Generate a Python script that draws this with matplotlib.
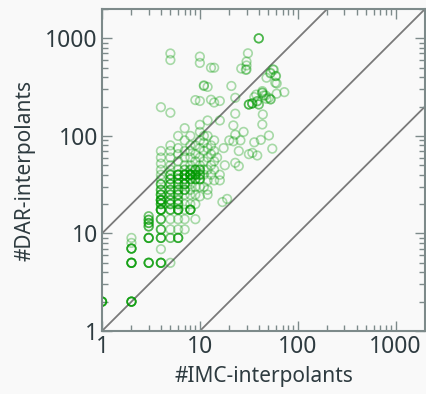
import matplotlib
matplotlib.use("Agg")
import matplotlib.pyplot as plt
from matplotlib.ticker import LogLocator, NullFormatter, FixedLocator, FixedFormatter

# (IMC-interpolants, DAR-interpolants) pairs
imc = [
    1, 1, 1, 1, 1, 1,
    2, 2, 2, 2, 2, 2, 2, 2, 2, 2, 2, 2, 2, 2, 2, 2, 2, 2, 2,
    3, 3, 3, 3, 3, 3, 3, 3, 3, 3, 3, 3, 3, 3, 3, 3, 3,
    4, 4, 4, 4, 4, 4, 4, 4, 4, 4, 4, 4, 4, 4, 4, 4, 4, 4, 4, 4, 4, 4, 4, 4, 4, 4, 4, 4, 4, 4, 4, 4, 4, 4, 4, 4, 4, 4, 4,
    5, 5, 5, 5, 5, 5, 5, 5, 5, 5, 5, 5, 5, 5, 5, 5, 5, 5, 5, 5, 5, 5, 5, 5, 5, 5, 5, 5, 5,
    6, 6, 6, 6, 6, 6, 6, 6, 6, 6, 6, 6, 6, 6, 6, 6, 6, 6, 6, 6, 6, 6, 6, 6, 6, 6, 6, 6,
    7, 7, 7, 7, 7, 7, 7, 7, 7, 7, 7, 7, 7, 7, 7, 7, 7, 7, 7, 7,
    8, 8, 8, 8, 8, 8, 8, 8, 8, 8, 8, 8, 8, 8, 8, 8, 8, 8,
    9, 9, 9, 9, 9, 9, 9, 9, 9, 9, 9, 9, 9, 9,
    10, 10, 10, 10, 10, 10, 10, 10, 10, 10, 10, 10, 10, 10, 10, 10,
    11, 11, 11, 11, 11, 11, 11, 11, 11,
    12, 12, 12, 12, 12, 12, 12, 12, 12,
    13, 13, 13, 13, 13, 13,
    14, 14, 14, 14, 14, 14, 14,
    15, 16, 16, 16, 16, 17, 17.5, 18, 19, 20,
    21, 23, 23, 22, 23, 26, 22, 23, 25, 26.5, 30, 30, 31, 30, 29.5, 25, 28,
    31.7, 34.4, 36, 38.6, 42, 43.5, 44, 50.8, 55,
    31.7, 31.7, 31.7, 34.3, 34.3, 34.3, 38.6, 38.6, 40, 40, 43.5, 43.5, 52.8, 52.8,
    48, 59.5, 61, 73, 61, 52.8, 57, 55.8, 52.5, 60, 59,
    40, 40, 40, 36, 45, 48, 37.7, 43.5, 47, 50.8,
    # dense block repeats
    4, 4, 4, 4, 4, 4, 4, 4, 5, 5, 5, 5, 5, 5, 5, 5, 6, 6, 6, 6, 6, 6, 6, 6,
    7, 7, 7, 7, 7, 7, 8, 8, 8, 8, 8, 8, 9, 9, 9, 9, 10, 10, 10, 10,
    3, 3, 3, 3, 6, 6, 4, 4, 8, 8, 7, 7,
]
dar = [
    2, 2, 2, 2, 2, 2,
    2, 2, 2, 2, 2, 2, 5, 5, 5, 5, 5, 5, 7, 7, 7, 7, 7, 9, 8,
    5, 5, 5, 5, 5, 9, 9, 9, 9, 11.8, 11.8, 12.8, 12.8, 13.8, 13.8, 15, 15,
    5, 5, 5, 5, 6.9, 9, 9, 9, 11, 11, 11, 14, 14, 14, 17.5, 17.5, 17.5, 17.5, 20, 20, 20, 22, 22, 22, 22, 25, 25, 25, 28, 28, 32, 32, 36, 40, 45, 52, 60, 70, 197,
    5, 9, 9, 11, 14, 17.5, 17.5, 20, 20, 22, 22, 25, 25, 28, 28, 32, 32, 36, 36, 40, 40, 45, 50, 60, 70, 80, 600, 700, 173,
    9, 9, 9, 11, 14, 17.5, 17.5, 17.5, 20, 20, 22, 22, 25, 25, 28, 28, 32, 32, 36, 36, 40, 40, 40, 45, 55, 65, 75, 100,
    11, 14, 17.5, 20, 25, 28, 28, 32, 32, 36, 36, 40, 40, 40, 45, 50, 60, 70, 90, 120,
    17.5, 17.5, 17.5, 20, 25, 28, 32, 36, 36, 40, 40, 40, 45, 50, 60, 70, 80, 100,
    14, 20, 25, 30, 36, 36, 40, 40, 45, 45, 55, 65, 80, 233,
    24, 30, 36, 36, 40, 40, 45, 50, 60, 75, 90, 110, 130, 560, 650, 228,
    30, 40, 45, 55, 70, 85, 100, 325, 330,
    25, 28, 35, 45, 60, 75, 100, 318, 144,
    40, 50, 65, 80, 235, 500,
    35, 45, 55, 70, 90, 220, 500,
    60, 228, 144, 40, 35, 21, 75, 50, 22.6, 90,
    325, 246, 169, 128, 103, 90, 88, 53, 49, 490, 480, 578, 703, 527, 475, 70, 110,
    65, 67, 86, 63, 91, 131, 166, 101, 74,
    210, 210, 210, 215, 215, 215, 227, 227, 210, 210, 277, 277, 237, 237,
    395, 411, 345, 281, 271, 443, 475, 482, 438, 411, 351,
    1000, 1000, 1000, 250, 260, 240, 265, 288, 260, 246,
    17.5, 17.5, 20, 22, 22, 25, 28, 32, 17.5, 20, 22, 25, 28, 32, 36, 40, 17.5, 20, 25, 28, 32, 36, 40, 40,
    28, 32, 36, 40, 40, 45, 17.5, 36, 40, 40, 45, 40, 36, 40, 45, 40, 40, 45, 36, 45,
    11.8, 12.8, 13.8, 9, 9, 17.5, 9, 5, 17.5, 40, 40, 32,
]

diag_factors = [10, 1, 0.1]
ticks = [1, 10, 100, 1000]
tick_labels = ["1", "10", "100", "1000"]

plt.rcParams['font.family'] = ['Noto Sans', 'DejaVu Sans']
bg = '#f9f9f9'
txt = '#2e3b40'
spine = '#7d8a8a'

fig = plt.figure(figsize=(4.26, 3.94), dpi=100, facecolor=bg)
ax = fig.add_axes([102/426, 1 - 331/394, 323/426, 322/394], facecolor=bg)
ax.set_xscale('log')
ax.set_yscale('log')
lo, hi = 1, 2000
ax.set_xlim(lo, hi)
ax.set_ylim(lo, hi)

for f in diag_factors:
    ax.plot([lo, hi], [lo * f, hi * f], color='#7a7a7a', lw=1.3, zorder=1)

ax.scatter(imc, dar, s=38, facecolors='none', edgecolors=(0.0, 0.6, 0.0, 0.33),
           linewidths=1.2, zorder=2)

for a in (ax.xaxis, ax.yaxis):
    a.set_major_locator(FixedLocator(ticks))
    a.set_major_formatter(FixedFormatter(tick_labels))
    a.set_minor_locator(LogLocator(base=10, subs=range(2, 10)))
    a.set_minor_formatter(NullFormatter())

ax.tick_params(which='both', direction='in', top=True, right=True, color=spine,
               width=1.0, labelsize=16.5, labelcolor=txt)
ax.tick_params(which='major', length=7, pad=3)
ax.tick_params(which='minor', length=4.5)
for s in ax.spines.values():
    s.set_color(spine)
    s.set_linewidth(1.5)

ax.set_xlabel('#IMC-interpolants', fontsize=15, color=txt, labelpad=5)
ax.set_ylabel('#DAR-interpolants', fontsize=15, color=txt, labelpad=7)

fig.savefig('out.png', dpi=100, facecolor=bg)
